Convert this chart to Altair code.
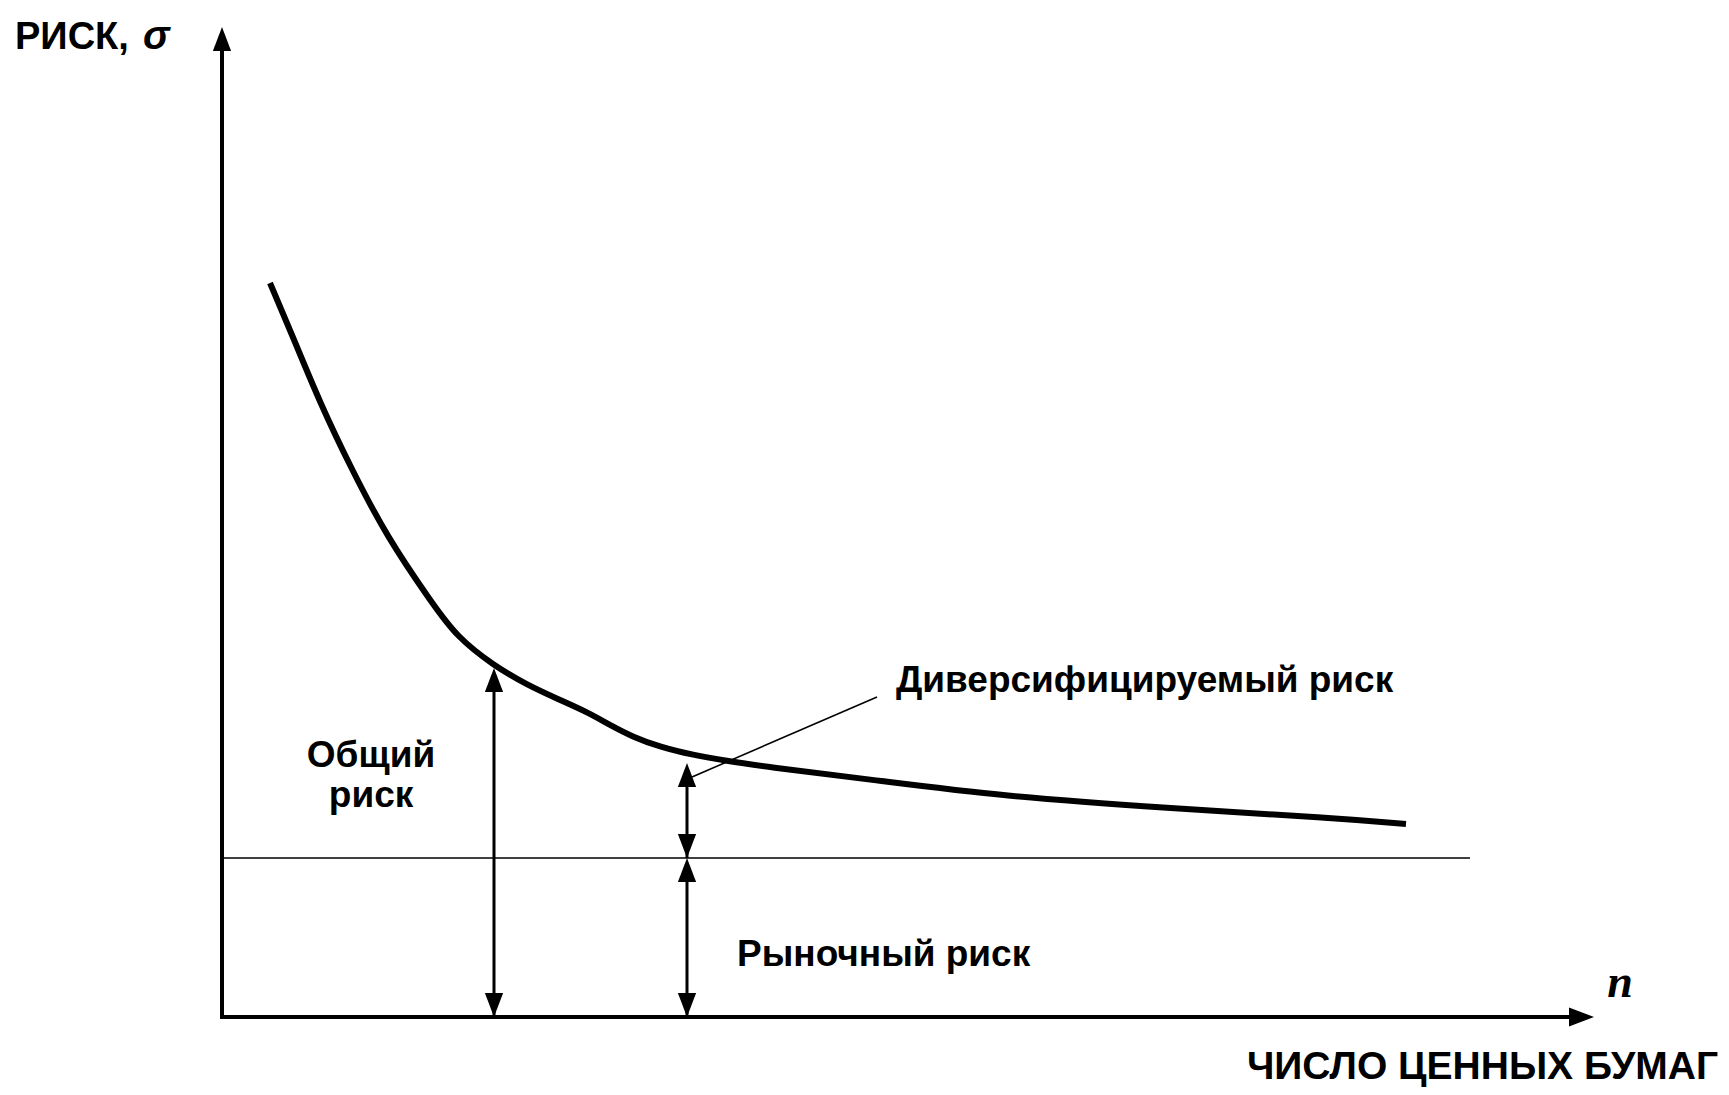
import altair as alt
import pandas as pd

# ---- data (chart units: 1 unit ~ 1 px of the reference, origin at axes corner) ----
curve_n = [48, 71, 98, 130, 165, 210, 235, 271, 305, 338, 365, 388, 411, 438,
           471, 505, 538, 660, 778, 945, 1111, 1184]
curve_sigma = [734, 680, 614, 547, 480, 414, 380, 352, 332, 317, 305, 292, 280, 270,
               262, 256, 251, 236, 221, 209, 199, 193]

X_MAX = 1372          # end of n axis
Y_MAX = 990           # end of sigma axis
MARKET_RISK = 159     # market (systematic) risk level
MARKET_END = 1248     # end of market risk line
TOTAL_N = 272         # where total risk arrow is drawn
TOTAL_TOP = 349       # total risk at that n
DIV_N = 465           # where diversifiable risk arrow is drawn
DIV_TOP = 254         # total risk at that n
LEADER = [(470, 240), (655, 320)]

xs = alt.Scale(domain=[0, X_MAX], nice=False, zero=False)
ys = alt.Scale(domain=[0, Y_MAX], nice=False, zero=False)


def X(f):
    return alt.X(f, type="quantitative", scale=xs, axis=None)


def Y(f):
    return alt.Y(f, type="quantitative", scale=ys, axis=None)


curve_df = pd.DataFrame({"n": curve_n, "s": curve_sigma})
curve = alt.Chart(curve_df).mark_line(
    color="black", strokeWidth=6, interpolate="basis", strokeCap="butt"
).encode(x=X("n"), y=Y("s"))

# axes and arrow shafts
vrules_df = pd.DataFrame({
    "x": [0, TOTAL_N, DIV_N, DIV_N],
    "y": [-2, 0, MARKET_RISK, 0],
    "y2": [Y_MAX - 20, TOTAL_TOP - 20, DIV_TOP - 20, MARKET_RISK - 20],
    "w": [4, 3, 3, 3],
})
vrules = alt.Chart(vrules_df).mark_rule(color="black", strokeCap="butt").encode(
    x=X("x"), y=Y("y"), y2="y2", strokeWidth=alt.StrokeWidth("w:Q", scale=None)
)

hrules_df = pd.DataFrame({
    "x": [-2, 0],
    "x2": [X_MAX - 20, MARKET_END],
    "y": [0, MARKET_RISK],
    "w": [4, 1.6],
})
hrules = alt.Chart(hrules_df).mark_rule(color="black", strokeCap="butt").encode(
    x=X("x"), x2="x2", y=Y("y"), strokeWidth=alt.StrokeWidth("w:Q", scale=None)
)

leader_df = pd.DataFrame({"x": [LEADER[0][0]], "y": [LEADER[0][1]],
                          "x2": [LEADER[1][0]], "y2": [LEADER[1][1]]})
leader = alt.Chart(leader_df).mark_rule(color="black", strokeWidth=1.6).encode(
    x=X("x"), y=Y("y"), x2="x2", y2="y2"
)

UP = "M0,0L-0.38,1L0.38,1Z"
DOWN = "M0,0L-0.38,-1L0.38,-1Z"
RIGHT = "M0,0L-1,-0.38L-1,0.38Z"

up_df = pd.DataFrame({"x": [0, TOTAL_N, DIV_N, DIV_N],
                      "y": [Y_MAX, TOTAL_TOP, DIV_TOP, MARKET_RISK]})
down_df = pd.DataFrame({"x": [TOTAL_N, DIV_N, DIV_N],
                        "y": [0, MARKET_RISK, 0]})
right_df = pd.DataFrame({"x": [X_MAX], "y": [0]})

ups = alt.Chart(up_df).mark_point(shape=UP, size=2304, filled=True, color="black",
                                  opacity=1, strokeWidth=0).encode(x=X("x"), y=Y("y"))
downs = alt.Chart(down_df).mark_point(shape=DOWN, size=2304, filled=True, color="black",
                                      opacity=1, strokeWidth=0).encode(x=X("x"), y=Y("y"))
rights = alt.Chart(right_df).mark_point(shape=RIGHT, size=2500, filled=True, color="black",
                                        opacity=1, strokeWidth=0).encode(x=X("x"), y=Y("y"))

# ---- labels ----
SANS = "Liberation Sans, Arial, sans-serif"
SERIF = "Liberation Serif, Times New Roman, serif"

inner_df = pd.DataFrame({
    "x": [149, 149],
    "y": [250, 210],
    "t": ["Общий", "риск"],
})
inner = alt.Chart(inner_df).mark_text(
    align="center", baseline="alphabetic", font=SANS, fontSize=37, fontWeight="bold",
    color="black"
).encode(x=X("x"), y=Y("y"), text="t:N")

left_df = pd.DataFrame({
    "x": [515, 674],
    "y": [51, 325],
    "t": ["Рыночный риск", "Диверсифицируемый риск"],
})
left_lbl = alt.Chart(left_df).mark_text(
    align="left", baseline="alphabetic", font=SANS, fontSize=37, fontWeight="bold",
    color="black"
).encode(x=X("x"), y=Y("y"), text="t:N")

ylab = alt.Chart(pd.DataFrame({"x": [-207], "y": [968], "t": ["РИСК,"]})).mark_text(
    align="left", baseline="alphabetic", font=SANS, fontSize=38, fontWeight="bold",
    color="black"
).encode(x=X("x"), y=Y("y"), text="t:N")

sigma = alt.Chart(pd.DataFrame({"x": [-79], "y": [968], "t": ["σ"]})).mark_text(
    align="left", baseline="alphabetic", font=SANS, fontSize=40, fontWeight="bold",
    fontStyle="italic", color="black"
).encode(x=X("x"), y=Y("y"), text="t:N")

xlab = alt.Chart(pd.DataFrame({"x": [1496], "y": [-62], "t": ["ЧИСЛО ЦЕННЫХ БУМАГ"]})).mark_text(
    align="right", baseline="alphabetic", font=SANS, fontSize=39, fontWeight="bold",
    color="black"
).encode(x=X("x"), y=Y("y"), text="t:N")

nlab = alt.Chart(pd.DataFrame({"x": [1398], "y": [20], "t": ["n"]})).mark_text(
    align="center", baseline="alphabetic", font=SERIF, fontSize=46, fontWeight="bold",
    fontStyle="italic", color="black"
).encode(x=X("x"), y=Y("y"), text="t:N")

chart = alt.layer(
    hrules, vrules, leader, curve, ups, downs, rights,
    inner, left_lbl, ylab, sigma, xlab, nlab
).properties(
    width=X_MAX,
    height=Y_MAX,
    autosize=alt.AutoSizeParams(type="none"),
    padding={"left": 214, "top": 19, "right": 127, "bottom": 70},
    background="white",
).configure_view(stroke=None)

chart.save("out.html", embed_options={"renderer": "svg", "actions": False})
